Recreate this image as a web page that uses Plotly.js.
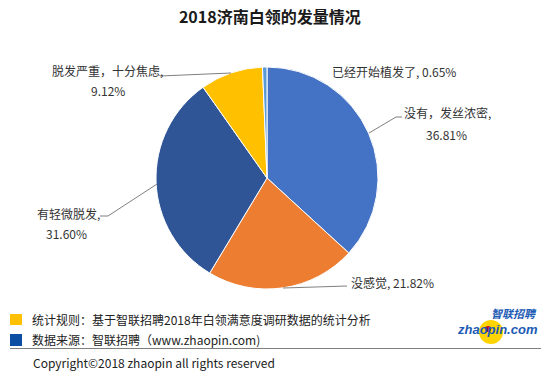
<!DOCTYPE html>
<html><head><meta charset="utf-8">
<script src="https://cdn.plot.ly/plotly-3.0.1.min.js"></script>
<style>html,body{margin:0;padding:0;background:#fff}#c{width:554px;height:376px}</style>
</head><body><div id="c"></div>
<script>
const categories = ["没有，发丝浓密", "没感觉", "有轻微脱发", "脱发严重，十分焦虑", "已经开始植发了"];
const values = [36.81, 21.82, 31.60, 9.12, 0.65];
const colors = ["#4472C4", "#ED7D31", "#2F5597", "#FFC000", "#5B9BD5"];
const titleText = "2018济南白领的发量情况";

const W = 554, H = 376;
const px = x => x / W, py = y => 1 - y / H;
const F = "'Microsoft YaHei','Noto Sans CJK SC',sans-serif";
const fmt = v => v.toFixed(2) + "%";

const trace = {
  type: "pie", labels: categories, values: values, sort: false,
  direction: "clockwise", rotation: 0, textinfo: "none", hoverinfo: "label+percent",
  marker: {colors: colors, line: {color: "#ffffff", width: 1}},
  domain: {x: [px(156), px(378)], y: [py(289), py(67)]},
  showlegend: false
};

function ann(text, x, y, opts) {
  return Object.assign({text: text, x: px(x), y: py(y), xref: "paper", yref: "paper",
    showarrow: false, font: {family: F, size: 12, color: "#333"}, xanchor: "left", yanchor: "middle"}, opts || {});
}
function line(pts) {
  let d = "M" + pts.map(p => px(p[0]) + "," + py(p[1])).join(" L");
  return {type: "path", xref: "paper", yref: "paper", path: d, line: {color: "#7f7f7f", width: 1}};
}

const annotations = [
  ann(categories[4] + ", " + fmt(values[4]), 330, 72),
  ann(categories[0] + ",", 402, 113),
  ann(fmt(values[0]), 446, 134, {xanchor: "center"}),
  ann(categories[1] + ", " + fmt(values[1]), 349, 282),
  ann(categories[3] + ",", 50, 70),
  ann(fmt(values[3]), 108, 90, {xanchor: "center"}),
  ann(categories[2] + ",", 35, 213),
  ann(fmt(values[2]), 66, 233, {xanchor: "center"}),
  ann("统计规则：基于智联招聘2018年白领满意度调研数据的统计分析", 30, 319, {font: {family: F, size: 12, color: "#222"}}),
  ann("数据来源：智联招聘（www.zhaopin.com)", 30, 339, {font: {family: F, size: 12, color: "#222"}}),
  ann("Copyright©2018 zhaopin all rights reserved", 31, 362, {font: {family: F, size: 12, color: "#222"}}),
  ann("<b><i>智联招聘</i></b>", 539, 313, {xanchor: "right", font: {family: F, size: 11, color: "#1B5BB5"}}),
  ann("<b><i>zhaopin.com</i></b>", 540, 329, {xanchor: "right", font: {family: "Arial, 'Liberation Sans', sans-serif", size: 13, color: "#1B5BB5"}})
];

const shapes = [
  line([[369, 133], [396, 117], [402, 117]]),
  line([[283, 288], [347, 286]]),
  line([[160, 76], [231, 73]]),
  line([[100, 216], [108, 216], [157, 184]]),
  {type: "rect", xref: "paper", yref: "paper", x0: px(10), x1: px(22), y0: py(325), y1: py(314), fillcolor: "#FFC000", line: {width: 0}},
  {type: "rect", xref: "paper", yref: "paper", x0: px(10), x1: px(22), y0: py(346), y1: py(334), fillcolor: "#0E4DA4", line: {width: 0}},
  {type: "line", xref: "paper", yref: "paper", x0: px(10), x1: px(541), y0: py(348.5), y1: py(348.5), line: {color: "#7f7f7f", width: 1}},
  {type: "circle", xref: "paper", yref: "paper", layer: "below", x0: px(479), x1: px(503), y0: py(344), y1: py(320), fillcolor: "#FFD400", line: {width: 0}},
  {type: "circle", xref: "paper", yref: "paper", layer: "above", x0: px(485), x1: px(491), y0: py(332), y1: py(326), fillcolor: "#C8102E", line: {width: 0}}
];

const layout = {
  width: W, height: H, margin: {l: 0, r: 0, t: 0, b: 0},
  paper_bgcolor: "#fff", plot_bgcolor: "#fff",
  title: {text: "<b>" + titleText + "</b>", x: 0.487, xanchor: "center", y: py(17), yanchor: "middle",
    font: {family: F, size: 16, color: "#1a1a1a"}},
  annotations: annotations, shapes: shapes
};
Plotly.newPlot("c", [trace], layout, {displayModeBar: false, staticPlot: true});
</script></body></html>
